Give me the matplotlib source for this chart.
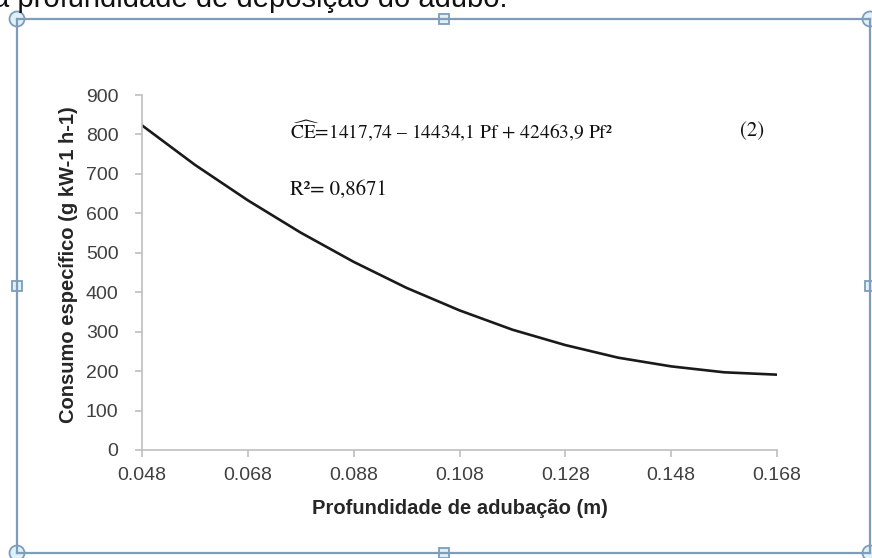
import matplotlib
matplotlib.use("Agg")
import matplotlib.pyplot as plt
from matplotlib.lines import Line2D
from matplotlib.patches import Ellipse, Rectangle

profundidade = [0.048, 0.058, 0.068, 0.078, 0.088, 0.098, 0.108,
                0.118, 0.128, 0.138, 0.148, 0.158, 0.168]
consumo = [823, 723, 633, 551, 477, 411, 354, 305, 266, 234, 212, 197, 191]

x_ticks = [0.048, 0.068, 0.088, 0.108, 0.128, 0.148, 0.168]
y_ticks = [0, 100, 200, 300, 400, 500, 600, 700, 800, 900]

W, H = 872, 558
plt.rcParams['mathtext.fontset'] = 'stix'
fig = plt.figure(figsize=(W / 100, H / 100), dpi=100)


def fx(px):
    return px / W


def fy(py):
    return 1 - py / H


ax = fig.add_axes([fx(142), fy(450), fx(777) - fx(142), fy(95) - fy(450)])
ax.plot(profundidade, consumo, color='#1a1a1a', lw=1.9)
ax.set_xlim(0.048, 0.168)
ax.set_ylim(0, 900)
ax.set_xticks(x_ticks)
ax.set_xticklabels([f"{t:.3f}" for t in x_ticks])
ax.set_yticks(y_ticks)

for s in ['top', 'right']:
    ax.spines[s].set_visible(False)
for s in ['left', 'bottom']:
    ax.spines[s].set_color('#bfbfbf')
    ax.spines[s].set_linewidth(1.2)

sans = 'Liberation Sans'
ax.tick_params(axis='both', colors='#bfbfbf', length=5, width=1.2, labelcolor='#404040')
ax.tick_params(axis='y', pad=12)
ax.tick_params(axis='x', pad=7)
for lab in ax.get_xticklabels() + ax.get_yticklabels():
    lab.set_fontfamily(sans)
    lab.set_fontsize(14)

ax.set_xlabel("Profundidade de adubação (m)", fontsize=14.5, fontweight='bold',
              family=sans, color='#262626', va='center')
ax.set_ylabel("Consumo específico (g kW-1 h-1)", fontsize=14.5, fontweight='bold',
              family=sans, color='#262626', va='center')
ax.xaxis.set_label_coords(0.5, -(508 - 450) / 355)
ax.yaxis.set_label_coords((69 - 142) / 635, (450 - 265) / 355)

# equação
fig.text(fx(290), fy(131), r"$\widehat{\mathrm{CE}}$=1417,74 – 14434,1 Pf + 42463,9 Pf²",
         fontsize=14, family='STIXGeneral', va='center', ha='left', color='#111111')
fig.text(fx(740), fy(131), "(2)", fontsize=15, family='STIXGeneral',
         va='center', ha='left', color='#111111')
fig.text(fx(290), fy(190), "R²= 0,8671", fontsize=15, family='STIXGeneral',
         va='center', ha='left', color='#111111')

# texto cortado do documento
fig.text(fx(-7), fy(7), "a profundidade de deposição do adubo.", fontsize=21,
         family='Liberation Sans', va='baseline', ha='left', color='#111111')

# moldura de seleção
L, R, T, B = 17, 870, 19, 553
edge = '#7f9db9'
for (x0, y0, x1, y1) in [(L, T, R, T), (L, B, R, B), (L, T, L, B), (R, T, R, B)]:
    fig.add_artist(Line2D([fx(x0), fx(x1)], [fy(y0), fy(y1)], color=edge, lw=1.6))

for (cx, cy) in [(L, T), (R, T), (L, B), (R, B)]:
    fig.add_artist(Ellipse((fx(cx), fy(cy)), 15 / W, 15 / H, transform=fig.transFigure,
                           facecolor='#dff1f8', edgecolor=edge, lw=1.3))
for (cx, cy) in [((L + R) / 2, T), ((L + R) / 2, B), (L, (T + B) / 2), (R, (T + B) / 2)]:
    fig.add_artist(Rectangle((fx(cx - 5), fy(cy + 5)), 10 / W, 10 / H,
                             transform=fig.transFigure,
                             facecolor='#dff1f8', edgecolor=edge, lw=1.3))

fig.savefig("out.png", dpi=100)
